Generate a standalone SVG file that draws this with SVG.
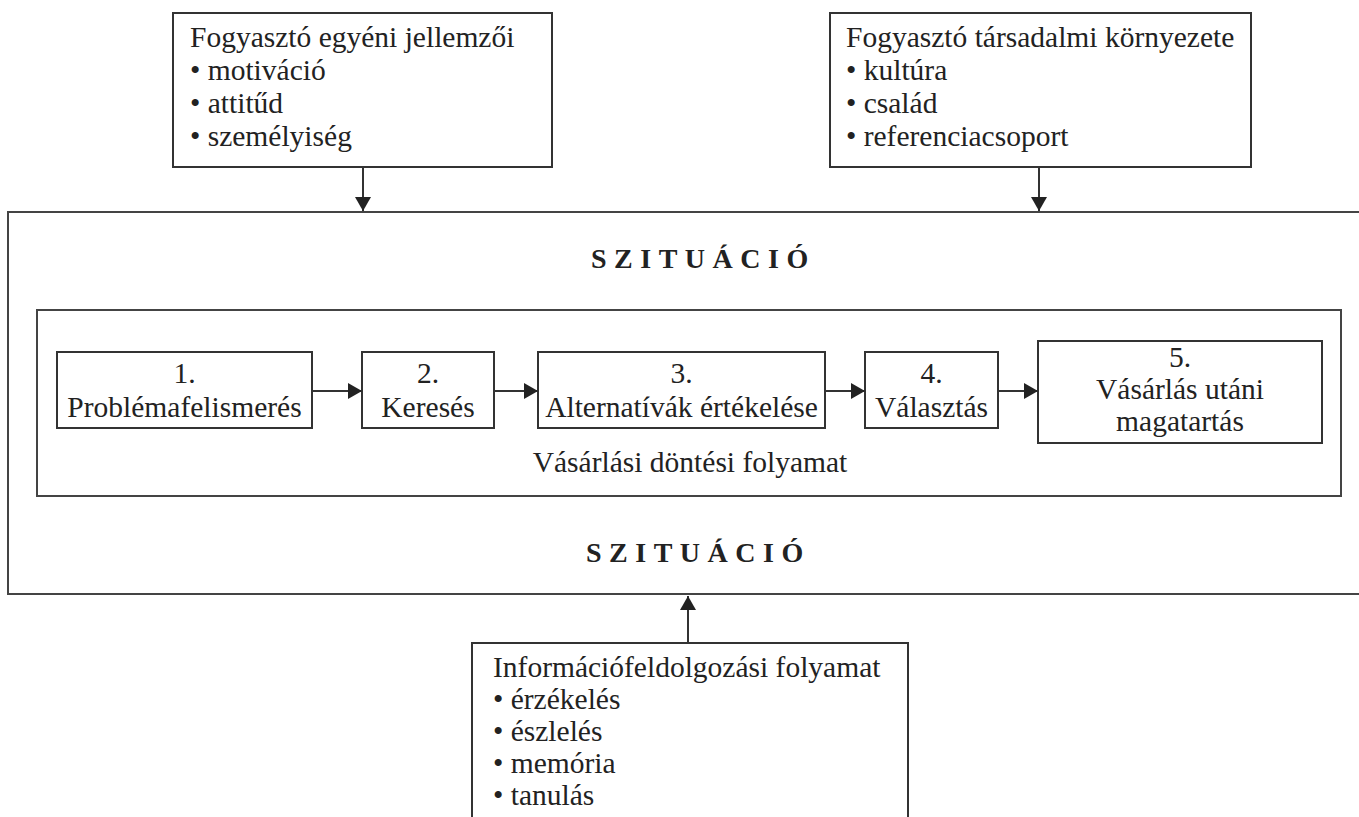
<svg xmlns="http://www.w3.org/2000/svg" width="1359" height="817" viewBox="0 0 1359 817">
<defs>
<style>
.box{fill:#fff;stroke:#333;stroke-width:2}
.frame{fill:none;stroke:#444;stroke-width:2}
.t{font-family:"Liberation Serif","Times New Roman",serif;font-size:29.5px;fill:#222}
.c{text-anchor:middle}
.sit{font-family:"Liberation Serif","Times New Roman",serif;font-size:28px;font-weight:bold;letter-spacing:7.5px;fill:#222}
.ln{stroke:#333;stroke-width:2;fill:none}
</style>
<marker id="ah" viewBox="0 0 14 16" refX="14" refY="8" markerWidth="14" markerHeight="16" markerUnits="userSpaceOnUse" orient="auto">
<path d="M0 0 L14 8 L0 16 Z" fill="#222"/>
</marker>
</defs>
<rect width="1359" height="817" fill="#fff"/>
<g id="situacio">
<path class="frame" d="M1370 212 H8 V594 H1370"/>
<text class="sit" x="591" y="268">SZITUÁCIÓ</text>
<text class="sit" x="586" y="562">SZITUÁCIÓ</text>
</g>
<g id="folyamat">
<rect class="frame" x="37" y="310" width="1304" height="186"/>
<text class="t c" x="690" y="472">Vásárlási döntési folyamat</text>
</g>
<g id="egyeni">
<rect class="box" x="173" y="13" width="379" height="154"/>
<text class="t" x="190" y="47">Fogyasztó egyéni jellemzői</text>
<text class="t" x="190" y="80">• motiváció</text>
<text class="t" x="190" y="113">• attitűd</text>
<text class="t" x="190" y="146">• személyiség</text>
</g>
<g id="tarsadalmi">
<rect class="box" x="830" y="13" width="421" height="154"/>
<text class="t" x="846" y="47">Fogyasztó társadalmi környezete</text>
<text class="t" x="846" y="80">• kultúra</text>
<text class="t" x="846" y="113">• család</text>
<text class="t" x="846" y="146">• referenciacsoport</text>
</g>
<g id="informacio">
<path class="box" d="M472 830 V643 H908 V830"/>
<text class="t" x="493" y="677">Információfeldolgozási folyamat</text>
<text class="t" x="493" y="709">• érzékelés</text>
<text class="t" x="493" y="741">• észlelés</text>
<text class="t" x="493" y="773">• memória</text>
<text class="t" x="493" y="805">• tanulás</text>
</g>
<g id="step1">
<rect class="box" x="57" y="352" width="255" height="76"/>
<text class="t c" x="184.5" y="383">1.</text>
<text class="t c" x="184.5" y="417">Problémafelismerés</text>
</g>
<g id="step2">
<rect class="box" x="362" y="352" width="132" height="76"/>
<text class="t c" x="428" y="383">2.</text>
<text class="t c" x="428" y="417">Keresés</text>
</g>
<g id="step3">
<rect class="box" x="538" y="352" width="287" height="76"/>
<text class="t c" x="681.5" y="383">3.</text>
<text class="t c" x="681.5" y="417">Alternatívák értékelése</text>
</g>
<g id="step4">
<rect class="box" x="865" y="352" width="133" height="76"/>
<text class="t c" x="931.5" y="383">4.</text>
<text class="t c" x="931.5" y="417">Választás</text>
</g>
<g id="step5">
<rect class="box" x="1038" y="341" width="284" height="102"/>
<text class="t c" x="1180" y="367">5.</text>
<text class="t c" x="1180" y="399">Vásárlás utáni</text>
<text class="t c" x="1180" y="431">magatartás</text>
</g>
<g id="connectors">
<line class="ln" x1="363" y1="167" x2="363" y2="211" marker-end="url(#ah)"/>
<line class="ln" x1="1039" y1="167" x2="1039" y2="211" marker-end="url(#ah)"/>
<line class="ln" x1="688" y1="643" x2="688" y2="596" marker-end="url(#ah)"/>
<line class="ln" x1="312" y1="391" x2="362" y2="391" marker-end="url(#ah)"/>
<line class="ln" x1="494" y1="391" x2="538" y2="391" marker-end="url(#ah)"/>
<line class="ln" x1="825" y1="391" x2="865" y2="391" marker-end="url(#ah)"/>
<line class="ln" x1="998" y1="391" x2="1038" y2="391" marker-end="url(#ah)"/>
</g>
</svg>
